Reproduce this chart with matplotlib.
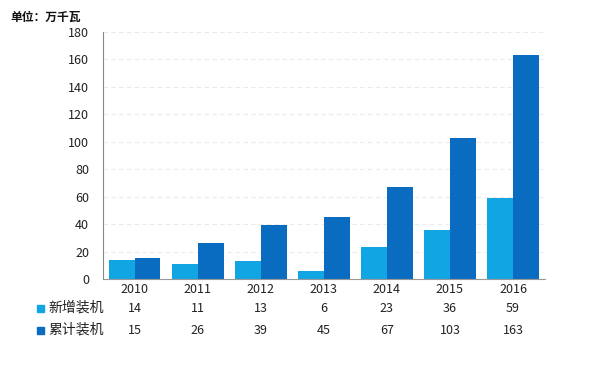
import matplotlib.pyplot as plt
import numpy as np

plt.rcParams['font.family'] = ['Noto Sans CJK SC', 'DejaVu Sans']

years = ['2010', '2011', '2012', '2013', '2014', '2015', '2016']
new_cap = [14, 11, 13, 6, 23, 36, 59]
total_cap = [15, 26, 39, 45, 67, 103, 163]
series_names = ['新增装机', '累计装机']

c_light = '#12a5e4'
c_dark = '#0a6cc0'

fig = plt.figure(figsize=(5.89, 3.66), dpi=100)
ax = fig.add_axes([0.175, 0.2377, 0.7495, 0.6749])

x = np.arange(len(years))
w = 0.41
ax.bar(x - w / 2, new_cap, w, color=c_light)
ax.bar(x + w / 2, total_cap, w, color=c_dark)

ax.set_xlim(-0.5, len(years) - 0.5)
ax.set_ylim(0, 180)
ax.set_yticks(range(0, 181, 20))
ax.tick_params(axis='y', length=0, labelsize=9, pad=10, colors='#222222')
ax.set_xticks(x)
ax.set_xticklabels(years)
ax.tick_params(axis='x', length=0, labelsize=9, pad=3, colors='#222222')
ax.yaxis.grid(True, color='#ebebeb', linestyle=(0, (4, 3)), linewidth=0.8)
ax.set_axisbelow(True)
for s in ['top', 'right']:
    ax.spines[s].set_visible(False)
ax.spines['left'].set_color('#888888')
ax.spines['bottom'].set_color('#999999')

# table under the chart
rows = [(new_cap, c_light, 308), (total_cap, c_dark, 330)]
for (vals, col, ypix), name in zip(rows, series_names):
    yf = 1 - ypix / 366
    fig.patches.append(plt.Rectangle((37 / 589, yf - 3.5 / 366), 7 / 589, 7 / 366,
                                     transform=fig.transFigure, color=col))
    fig.text(48 / 589, yf, name, fontsize=10, va='center', ha='left', color='#222222')
    for i, v in enumerate(vals):
        xf = ax.transData.transform((i, 0))[0] / fig.bbox.width
        fig.text(xf, yf, str(v), fontsize=9, va='center', ha='center', color='#222222')

fig.text(10 / 589, 1 - 17 / 366, '单位：万千瓦', fontsize=8.5, fontweight='bold',
         va='center', ha='left', color='#111111')

fig.savefig('out.png', dpi=100)
